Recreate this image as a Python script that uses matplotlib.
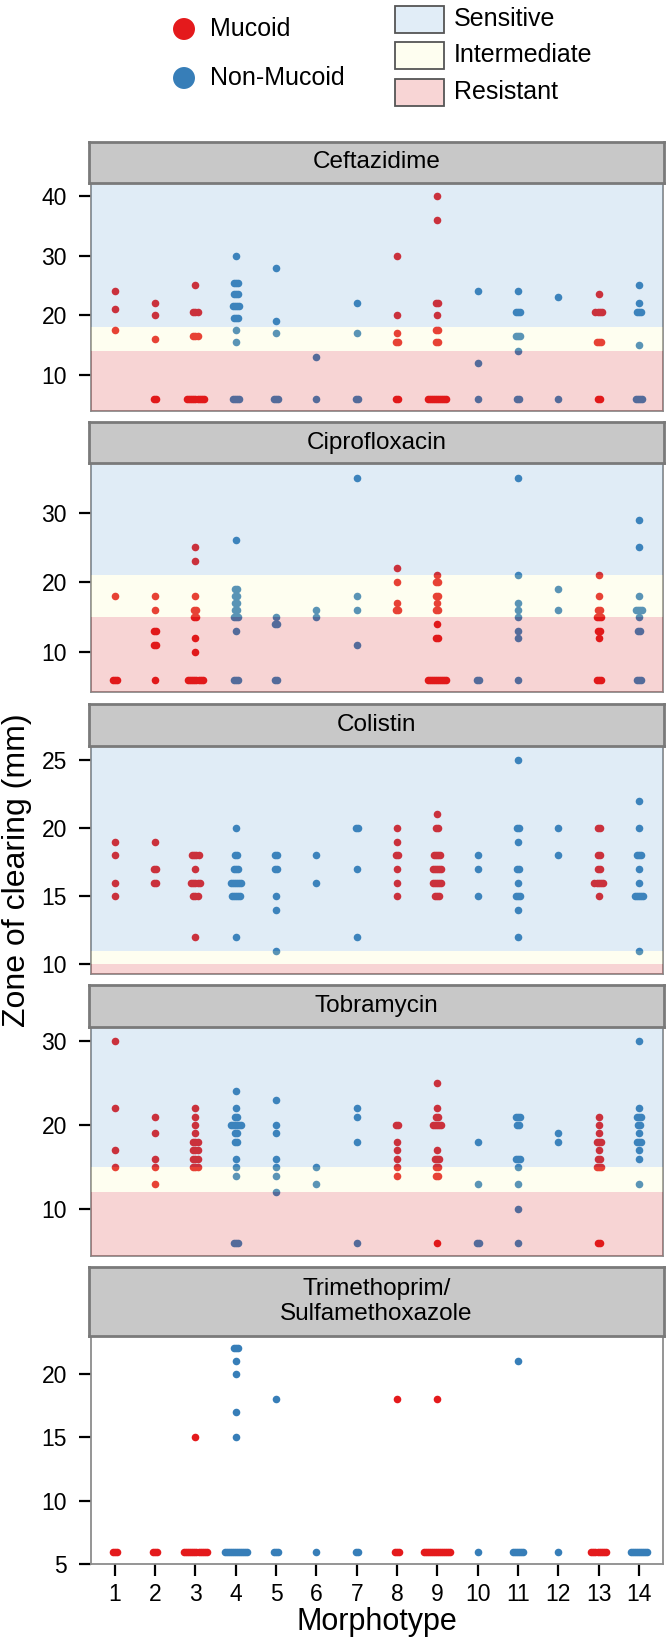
import numpy as np
import matplotlib
matplotlib.use("Agg")
import matplotlib.pyplot as plt
from matplotlib.patches import Rectangle

plt.rcParams['font.family'] = ['Liberation Sans', 'DejaVu Sans']

# Morphotype 1..14, mucoid (1) or non-mucoid (0)
morphotypes = list(range(1, 15))
mucoid = [1, 1, 1, 0, 0, 0, 0, 1, 1, 0, 0, 0, 1, 0]

# zone of clearing (mm), one list per morphotype
ceftazidime = [
    [24, 21, 17.5],
    [22, 20, 16, 6, 6],
    [25] + [20.5] * 3 + [16.5] * 3 + [6] * 9,
    [30] + [25.5] * 3 + [23.5] * 3 + [21.5] * 4 + [19.5] * 3 + [17.5, 15.5] + [6] * 4,
    [28, 19, 17, 6, 6, 6],
    [13, 6],
    [22, 17, 6, 6],
    [30, 20, 17, 15.5, 15.5, 6, 6],
    [40, 36, 22, 22, 20, 17.5, 17.5, 15.5, 15.5] + [6] * 10,
    [24, 12, 6],
    [24] + [20.5] * 3 + [16.5] * 3 + [14, 6, 6],
    [23, 6],
    [23.5] + [20.5] * 4 + [15.5] * 3 + [6, 6],
    [25, 22] + [20.5] * 3 + [15] + [6] * 4,
]
ciprofloxacin = [
    [18] + [6] * 3,
    [18, 16, 13, 13, 11, 11, 6],
    [25, 23, 18, 16, 16, 15, 15, 12, 10] + [6] * 8,
    [26, 19, 19, 18, 18, 17, 17, 16, 16, 15, 15, 15, 13] + [6] * 3,
    [15, 14, 14, 6, 6],
    [16, 15],
    [35, 18, 16, 11],
    [22, 20, 17, 16, 16],
    [21, 20, 20, 18, 18, 17, 16, 16, 14, 12, 12] + [6] * 10,
    [6, 6],
    [35, 21, 17, 16, 15, 13, 12, 6],
    [19, 16],
    [21, 18, 16, 16, 15, 15, 15, 13, 13, 12, 6, 6, 6],
    [29, 25, 18, 16, 16, 16, 16, 15, 13, 13, 6, 6, 6],
]
colistin = [
    [19, 18, 16, 15],
    [19, 17, 17, 16, 16],
    [18] * 4 + [17] + [16] * 5 + [15] * 3 + [12],
    [20, 18, 18, 17, 17, 17] + [16] * 6 + [15] * 5 + [12],
    [18, 18, 17, 17, 15, 14, 11],
    [18, 16],
    [20, 20, 17, 12],
    [20, 19, 18, 18, 17, 16, 15],
    [21, 20, 20] + [18] * 4 + [17] * 5 + [16] * 5 + [15] * 3,
    [18, 17, 15],
    [25, 20, 20, 19, 17, 17, 16, 15, 15, 15, 14, 12],
    [20, 18],
    [20, 20, 18, 18, 17, 17] + [16] * 5 + [15],
    [22, 20, 18, 18, 18, 17, 16] + [15] * 5 + [11],
]
tobramycin = [
    [30, 22, 17, 15],
    [21, 19, 16, 15, 13],
    [22, 21, 20, 19] + [18] * 3 + [17] * 3 + [16] * 3 + [15] * 3,
    [24, 22, 21, 21] + [20] * 6 + [19, 19, 18, 18, 16, 15, 14] + [6] * 3,
    [23, 20, 19, 16, 15, 14, 12],
    [15, 13],
    [22, 21, 18, 6],
    [20, 20, 18, 17, 16, 15, 14],
    [25, 22, 21, 21] + [20] * 5 + [17, 16, 16, 16, 15, 15, 14, 14, 6],
    [18, 13, 6, 6],
    [21, 21, 21, 20, 20, 16, 16, 16, 15, 13, 10, 6],
    [19, 18],
    [21, 20, 19, 18, 18, 18, 17, 16, 16, 15, 15, 15, 6, 6],
    [30, 22, 21, 21, 21, 20, 20, 19, 18, 18, 18, 17, 16, 13],
]
tmp_smx = [
    [6] * 3,
    [6] * 3,
    [15] + [6] * 12,
    [22] * 3 + [21, 20, 17, 15] + [6] * 12,
    [18] + [6] * 3,
    [6],
    [6] * 2,
    [18] + [6] * 3,
    [18] + [6] * 14,
    [6],
    [21] + [6] * 6,
    [6],
    [6] * 8,
    [6] * 9,
]

titles = ["Ceftazidime", "Ciprofloxacin", "Colistin", "Tobramycin",
          "Trimethoprim/\nSulfamethoxazole"]
panel_data = [ceftazidime, ciprofloxacin, colistin, tobramycin, tmp_smx]
# breakpoints (resistant below, sensitive above)
breakpoints = [(14, 18), (15, 21), (10, 11), (12, 15), None]
ylims = [(4.0, 42.2), (4.16, 37.15), (9.3, 26.0), (4.46, 31.6), (5.0, 23.0)]
yticks = [[10, 20, 30, 40], [10, 20, 30], [10, 15, 20, 25], [10, 20, 30], [5, 10, 15, 20]]

# layout in pixels: (strip top, axes top, axes bottom)
rows = [(141.7, 182.7, 411.0), (422.3, 463.0, 692.3), (704.0, 746.0, 974.0),
        (985.0, 1027.3, 1256.0), (1267.3, 1335.7, 1564.3)]
W, H = 672, 1652
x_left, x_right = 90.7, 663.0

col_red = "#E41A1C"
col_blue = "#377EB8"
band_alpha = 0.18
band_cols = {"S": (88 / 255, 155 / 255, 210 / 255),
             "I": (250 / 255, 250 / 255, 172 / 255),
             "R": (216 / 255, 22 / 255, 22 / 255)}

fig = plt.figure(figsize=(W / 100, H / 100), dpi=100)


def rect(top, bottom, left=x_left, right=x_right):
    return [left / W, 1 - bottom / H, (right - left) / W, (bottom - top) / H]


step = 0.05
for i in range(5):
    st, at, ab = rows[i]
    ax = fig.add_axes(rect(at, ab))
    for k, vals in enumerate(panel_data[i]):
        vals = np.array(vals, dtype=float)
        col = col_red if mucoid[k] else col_blue
        for v in np.unique(vals):
            n = int(np.sum(vals == v))
            off = (np.arange(n) - (n - 1) / 2) * step
            ax.scatter(morphotypes[k] + off, np.full(n, v), s=30, color=col,
                       linewidths=0, zorder=2)
    bp = breakpoints[i]
    if bp is not None:
        r, s = bp
        # bands sit on top of the points, semi-transparent
        ax.axhspan(-100, r, color=band_cols["R"], alpha=band_alpha, lw=0, zorder=3)
        ax.axhspan(r, s, color=band_cols["I"], alpha=band_alpha, lw=0, zorder=3)
        ax.axhspan(s, 100, color=band_cols["S"], alpha=band_alpha, lw=0, zorder=3)
    ax.set_xlim(0.4, 14.6)
    ax.set_ylim(*ylims[i])
    ax.set_yticks(yticks[i])
    ax.tick_params(axis='y', length=8.5, width=1.6, labelsize=16.5, pad=8.5, color='black')
    if i == 4:
        ax.set_xticks(morphotypes)
        ax.tick_params(axis='x', length=8.5, width=1.6, labelsize=16.5, pad=5)
        ax.set_xlabel("Morphotype", fontsize=22, labelpad=1)
    else:
        ax.set_xticks([])
    for sp in ax.spines.values():
        sp.set_color("#8c8c8c")
        sp.set_linewidth(1.3)

    # strip
    sax = fig.add_axes(rect(st, at, x_left - 2, x_right + 1))
    sax.set_facecolor("#C8C8C8")
    sax.set_xticks([])
    sax.set_yticks([])
    for sp in sax.spines.values():
        sp.set_color("#7a7a7a")
        sp.set_linewidth(2.0)
    sax.text(0.5, 0.5, titles[i], ha='center', va='center', fontsize=17.5,
             transform=sax.transAxes, linespacing=1.15)

fig.text(17 / W, 1 - 870 / H, "Zone of clearing (mm)", rotation=90,
         ha='center', va='center', fontsize=23)

# legend
lax = fig.add_axes([0, 1 - 130 / H, 1, 130 / H])
lax.set_xlim(0, W)
lax.set_ylim(130, 0)
lax.axis('off')
lax.scatter([184, 184], [29, 78], s=250, color=[col_red, col_blue], linewidths=0)
lax.text(210, 29, "Mucoid", va='center', ha='left', fontsize=18)
lax.text(210, 78, "Non-Mucoid", va='center', ha='left', fontsize=18)
leg_fill = ["#E1EDF7", "#FEFEF0", "#F8D5D5"]
leg_txt = ["Sensitive", "Intermediate", "Resistant"]
leg_top = [6, 42, 79]
for c, t, y0 in zip(leg_fill, leg_txt, leg_top):
    lax.add_patch(Rectangle((395, y0), 49, 27, facecolor=c, edgecolor="#555555", lw=1.3))
    lax.text(454, y0 + 13, t, va='center', ha='left', fontsize=18)

fig.savefig("out.png", dpi=100)
